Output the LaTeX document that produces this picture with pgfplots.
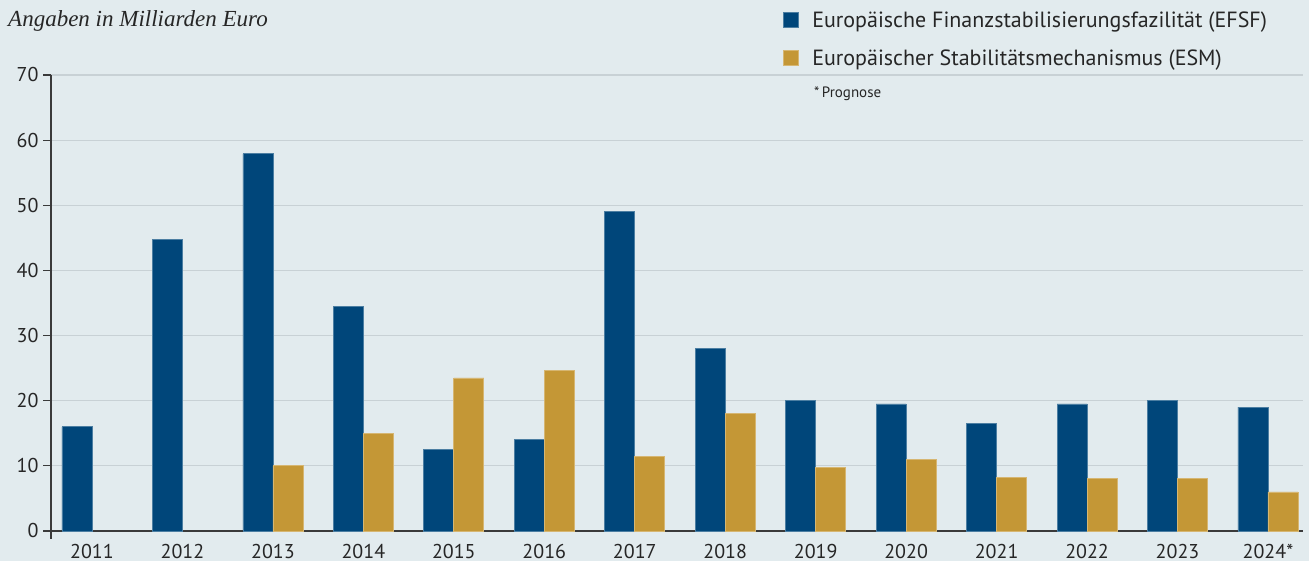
\documentclass[border=0pt]{standalone}
\usepackage{pgfplots}
\pgfplotsset{compat=1.18}
\usepackage{fontspec}
\setmainfont{PT Sans}
\newfontfamily\titlefont{Liberation Serif}

\definecolor{bg}{HTML}{E2EBEE}
\definecolor{efsf}{HTML}{00467A}
\definecolor{esm}{HTML}{C49736}
\definecolor{gridc}{HTML}{C8D1D5}
\definecolor{axisc}{HTML}{3A3A3A}

\begin{document}
\begin{tikzpicture}[x=1pt,y=1pt]
\fill[bg] (0,0) rectangle (1309,561);

\begin{axis}[
    at={(51pt,30pt)}, anchor=south west,
    scale only axis, width=1252pt, height=456pt,
    ybar=0pt, bar width=30pt,
    xmin=-0.453, xmax=13.387, ymin=0, ymax=70,
    axis x line=bottom, axis y line=left,
    axis line style={axisc, line width=1.5pt, -},
    xtick={0,...,13},
    xticklabels={2011,2012,2013,2014,2015,2016,2017,2018,2019,2020,2021,2022,2023,2024*},
    x tick style={draw=none},
    ytick={0,10,...,70},
    y tick style={axisc, line width=1.2pt},
    tick align=outside, major tick length=8pt,
    ymajorgrids, grid style={gridc, line width=1.2pt},
    tick label style={font=\fontsize{20}{24}\selectfont, text=black!85},
    xticklabel style={yshift=-2pt},
    yticklabel style={xshift=-1pt},
    /pgf/number format/assume math mode=true,
    clip=false,
    legend style={draw=none, fill=none, inner sep=0pt,
        at={(axis description cs:0.5849,1.1425)}, anchor=north west,
        font=\fontsize{22}{26}\selectfont, text=black!85,
        row sep=16pt,
        /tikz/every odd column/.append style={column sep=11pt}},
    legend cell align=left,
    legend image code/.code={\fill[#1] (0pt,-7pt) rectangle (15pt,8pt);},
]
\addplot[fill=efsf, draw=efsf!70!white, line width=0.8pt] coordinates {
    (0,16) (1,44.8) (2,57.9) (3,34.5) (4,12.5) (5,14) (6,49.1)
    (7,28) (8,20.1) (9,19.5) (10,16.5) (11,19.5) (12,20.1) (13,19)
};
\addlegendentry{Europäische Finanzstabilisierungsfazilität (EFSF)}
\addplot[fill=esm, draw=esm!70!white, line width=0.8pt] coordinates {
    (2,10) (3,15) (4,23.5) (5,24.6) (6,11.5)
    (7,18) (8,9.8) (9,11) (10,8.2) (11,8.1) (12,8.1) (13,6)
};
\addlegendentry{Europäischer Stabilitätsmechanismus (ESM)}
\draw[axisc, line width=1.5pt] (rel axis cs:0,0) -- ([yshift=-8pt]rel axis cs:0,0);
\end{axis}

\node[anchor=base west, inner sep=0pt, font=\titlefont\itshape\fontsize{23}{27}\selectfont, text=black!85] at (8,561-27) {Angaben in Milliarden Euro};
\node[anchor=base west, inner sep=0pt, font=\fontsize{15}{18}\selectfont, text=black!85] at (814,561-98) {*\,Prognose};
\end{tikzpicture}
\end{document}
